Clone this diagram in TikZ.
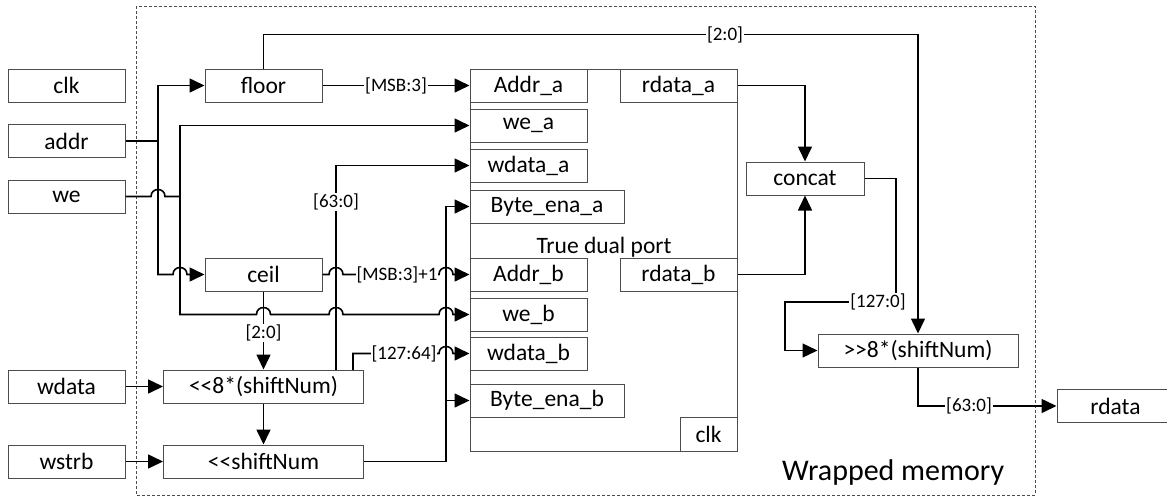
\documentclass[tikz,border=0pt]{standalone}
\usepackage{fontspec}
\setmainfont{Carlito}[Ligatures=TeXOff]
\usetikzlibrary{arrows.meta}
\begin{document}
\begin{tikzpicture}[x=1pt,y=-1pt,
  box/.style={draw=black!70,line width=1pt,inner sep=0pt,minimum height=33pt,font=\fontsize{23.5}{25}\selectfont},
  wire/.style={line width=1.6pt},
  thinwire/.style={line width=1.2pt},
  arr/.style={-{Triangle[length=15pt,width=14pt]}},
  lbl/.style={fill=white,inner sep=1pt,font=\fontsize{19}{21}\selectfont}]
\useasboundingbox (0,0) rectangle (1167,496);
% outer dashed frame
\draw[black!70,line width=0.8pt,dash pattern=on 3pt off 2pt] (136,6) rectangle (1035,495);
% inputs
\node[box,minimum width=117pt] (clk) at (66.5,85.5) {clk};
\node[box,minimum width=117pt] (addr) at (66.5,141) {addr};
\node[box,minimum width=117pt] (we) at (66.5,196.5) {we};
\node[box,minimum width=117pt] (wdata) at (66.5,386.5) {wdata};
\node[box,minimum width=117pt] (wstrb) at (66.5,461.5) {wstrb};
% processing boxes
\node[box,minimum width=117pt] (floor) at (263.5,85.5) {floor};
\node[box,minimum width=117pt] (ceil) at (263.5,274.5) {ceil};
\node[box,minimum width=200pt] (shift8) at (263.5,386.5) {<<8*(shiftNum)};
\node[box,minimum width=200pt] (shiftN) at (263.5,461.5) {<<shiftNum};
% memory
\node[box,minimum width=267pt,minimum height=382pt] (mem) at (603.5,260) {};
\node[font=\fontsize{23.5}{25}\selectfont,inner sep=0pt,anchor=base] (tdp) at (604,253) {True dual port};
\node[box,minimum width=117pt] (Addra) at (528.5,85.5) {Addr\_a};
\node[box,minimum width=117pt] (wea) at (528.5,125.5) {we\_a};
\node[box,minimum width=117pt] (wdataa) at (528.5,165.5) {wdata\_a};
\node[box,minimum width=154pt] (bytea) at (547,206.5) {Byte\_ena\_a};
\node[box,minimum width=117pt] (Addrb) at (528.5,274.5) {Addr\_b};
\node[box,minimum width=117pt] (web) at (528.5,314.5) {we\_b};
\node[box,minimum width=117pt] (wdatab) at (528.5,353.5) {wdata\_b};
\node[box,minimum width=154pt] (byteb) at (547,400.5) {Byte\_ena\_b};
\node[box,minimum width=117pt] (rdataa) at (678.5,85.5) {rdata\_a};
\node[box,minimum width=117pt] (rdatab) at (678.5,274.5) {rdata\_b};
\node[box,minimum width=57pt,minimum height=34pt] (iclk) at (708.5,434) {clk};
% output side
\node[box,minimum width=118pt] (concat) at (805,178.5) {concat};
\node[box,minimum width=200pt] (shiftR) at (918,350.5) {>>8*(shiftNum)};
\node[box,minimum width=117pt] (rdata) at (1115.5,406) {rdata};
\node[font=\fontsize{30}{32}\selectfont,inner sep=0pt,anchor=base west] (wm) at (782,480) {Wrapped memory};
% junction coordinates
\coordinate (ja) at (158,141);
\coordinate (jw) at (180,196.5);
\coordinate (jb) at (446,400.5);
% wires
\draw[wire,arr] (floor.north) -- ++(0,-34) -| (shiftR.north);
\draw[wire] (addr.east) -- (ja);
\draw[wire,arr] (ja) |- (floor.west);
\draw[wire,arr] (ja) -- (158,274.5) -- (173,274.5) .. controls (173,265.2) and (187,265.2) .. (187,274.5) -- (ceil.west);
\draw[wire] (we.east) -- (151,196.5) .. controls (151,187.2) and (165,187.2) .. (165,196.5) -- (jw);
\draw[wire,arr] (jw) |- (wea.west);
\draw[wire,arr] (jw) -- (180,314.5) -- (256.5,314.5) .. controls (256.5,305.2) and (270.5,305.2) .. (270.5,314.5)
  -- (329,314.5) .. controls (329,305.2) and (343,305.2) .. (343,314.5)
  -- (439,314.5) .. controls (439,305.2) and (453,305.2) .. (453,314.5) -- (web.west);
\draw[wire,arr] (ceil.east) -- (329,274.5) .. controls (329,265.2) and (343,265.2) .. (343,274.5)
  -- (439,274.5) .. controls (439,265.2) and (453,265.2) .. (453,274.5) -- (Addrb.west);
\draw[wire,arr] (ceil.south) -- (shift8.north);
\draw[wire,arr] (wdata.east) -- (shift8.west);
\draw[wire,arr] (wstrb.east) -- (shiftN.west);
\draw[wire,arr] (shift8.south) -- (shiftN.north);
\draw[wire,arr] (336,370) |- (wdataa.west);
\draw[wire,arr] (353,370) -- (353,353.5) -- (439,353.5) .. controls (439,344.2) and (453,344.2) .. (453,353.5) -- (wdatab.west);
\draw[wire,arr] (shiftN.east) -| (446,206.5) -- (bytea.west);
\draw[wire,arr] (jb) -- (byteb.west);
\draw[wire,arr] (floor.east) -- (Addra.west);
\draw[wire,arr] (rdataa.east) -| (concat.north);
\draw[wire,arr] (rdatab.east) -| (concat.south);
\draw[thinwire,arr] (concat.east) -- (896,178.5) -- (896,302) -- (785,302) -- (785,350.5) -- (shiftR.west);
\draw[wire,arr] (shiftR.south) |- (rdata.west);
% labels
\node[lbl] (l1) at (725,35) {[2:0]};
\node[lbl] (l2) at (396,85.5) {[MSB:3]};
\node[lbl] (l3) at (336,202) {[63:0]};
\node[lbl] (l4) at (397,274.5) {[MSB:3]+1};
\node[lbl] (l5) at (263.5,333) {[2:0]};
\node[lbl] (l6) at (404,354) {[127:64]};
\node[lbl] (l7) at (878,302) {[127:0]};
\node[lbl] (l8) at (969,406) {[63:0]};
\end{tikzpicture}
\end{document}
